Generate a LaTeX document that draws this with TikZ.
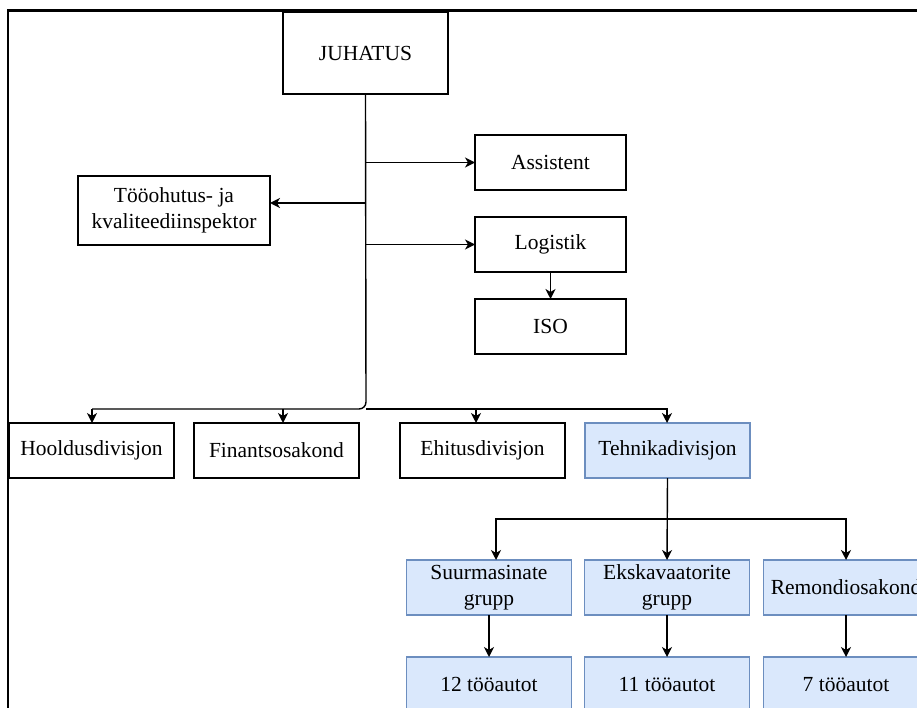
\documentclass[tikz,border=0pt]{standalone}
\usepackage{fontspec}
\setmainfont{Liberation Serif}
\usepackage{tikz}
\usetikzlibrary{positioning,arrows.meta}
\definecolor{boxblue}{HTML}{DAE8FC}
\definecolor{lineblue}{HTML}{6C8EBF}

\begin{document}
\begin{tikzpicture}[x=1pt,y=-1pt,
  font=\fontsize{21.5}{26}\selectfont,
  box/.style={draw, line width=1.4pt, minimum width=165pt, minimum height=55pt,
    inner sep=0pt, outer sep=0pt, align=center},
  bluebox/.style={box, fill=boxblue, draw=lineblue},
  arr/.style={line width=1.4pt, -{Stealth[length=10pt,width=10pt,inset=3pt]}},
  link/.style={line width=1.4pt}]
\useasboundingbox (0,0) rectangle (917,708);
\clip (0,0) rectangle (917,708);
\draw[line width=2.4pt] (8,708) -- (8,10.5) -- (917,10.5);

\node[box, minimum height=82pt] (juh) at (365.5,53) {JUHATUS};
\node[box, minimum width=151pt] (ass) at (550.5,162.5) {Assistent};
\node[box, minimum width=151pt, below=27pt of ass] (log) {Logistik};
\node[box, minimum width=151pt, below=27pt of log] (iso) {ISO};
\node[box, minimum width=192pt, minimum height=69pt] (too) at (174,210.5) {Tööohutus- ja\\kvaliteediinspektor};

\node[box] (hool) at (91.5,450.5) {Hooldusdivisjon};
\node[box, right=20pt of hool] (fin) {Finantsosakond};
\node[box, right=41pt of fin] (ehi) {Ehitusdivisjon};
\node[bluebox, right=20pt of ehi] (teh) {Tehnikadivisjon};

\node[bluebox] (suur) at (489,587.5) {Suurmasinate\\grupp};
\node[bluebox, right=13pt of suur] (eks) {Ekskavaatorite\\grupp};
\node[bluebox, right=14pt of eks] (rem) {Remondiosakond};
\node[bluebox, below=42pt of suur] (auto12) {12 tööautot};
\node[bluebox, below=42pt of eks] (auto11) {11 tööautot};
\node[bluebox, below=42pt of rem] (auto7) {7 tööautot};

\coordinate (t1) at (366,203);
\coordinate (bus) at (366,409);
\coordinate (dH) at (92,409);
\coordinate (dF) at (283,409);
\coordinate (dE) at (476,409);
\coordinate (dT) at (667,409);
\coordinate (tb) at (667,519);

\draw[arr] (juh.south |- ass.west) -- (ass.west);
\draw[arr] (juh.south |- log.west) -- (log.west);
\draw[arr] (t1) -- (too.east |- t1);
\draw[arr] (log.south) -- (iso.north);
\draw[link, rounded corners=7pt] (juh.south) -- (bus) -- (dH);
\draw[arr] (dH) -- (dH |- hool.north);
\draw[arr] (dF) -- (dF |- fin.north);
\draw[arr] (bus) -- (dE) -- (dE |- ehi.north);
\draw[arr] (dE) -- (dT) -- (dT |- teh.north);

\draw[arr] (teh.south) -- (eks.north);
\draw[arr] (tb) -| ([xshift=7pt]suur.north);
\draw[arr] (tb) -| (rem.north);
\draw[arr] (suur.south) -- (auto12.north);
\draw[arr] (eks.south) -- (auto11.north);
\draw[arr] (rem.south) -- (auto7.north);
\end{tikzpicture}
\end{document}
